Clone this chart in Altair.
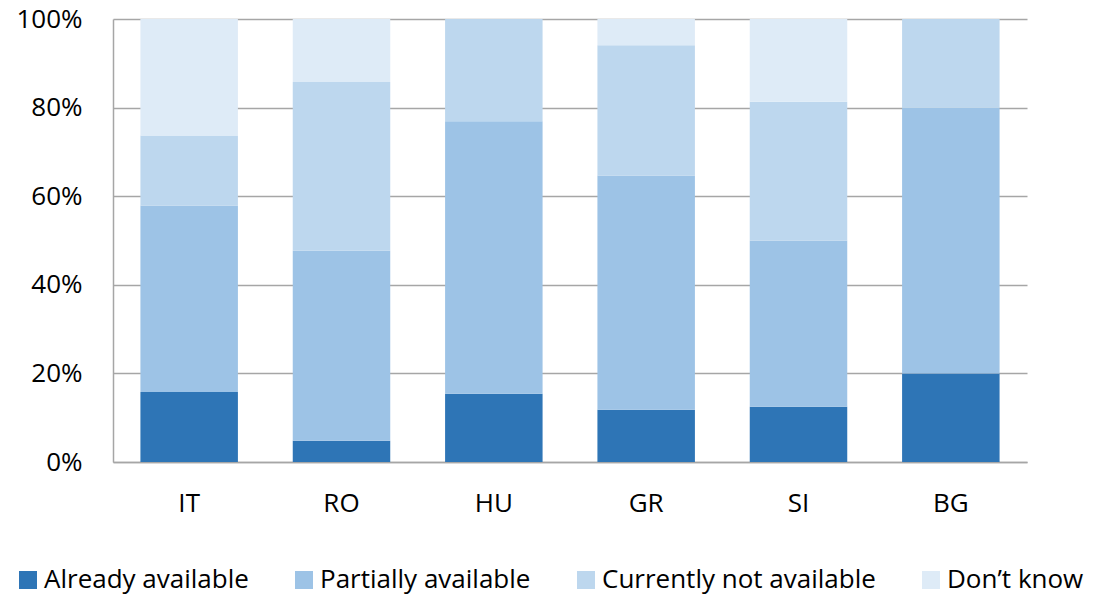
import altair as alt
import pandas as pd

countries = ["IT", "RO", "HU", "GR", "SI", "BG"]
categories = ["Already available", "Partially available", "Currently not available", "Don\u2019t know"]
already = [15.8, 4.8, 15.4, 11.8, 12.5, 20.0]
partially = [42.1, 42.9, 61.5, 52.9, 37.5, 60.0]
not_avail = [15.8, 38.1, 23.1, 29.4, 31.3, 20.0]
dont_know = [26.3, 14.2, 0.0, 5.9, 18.7, 0.0]
colors = ["#2E75B6", "#9DC3E6", "#BDD7EE", "#DEEBF7"]

rows = []
for series, vals in zip(categories, [already, partially, not_avail, dont_know]):
    for c, v in zip(countries, vals):
        rows.append({"country": c, "category": series, "value": v,
                     "order": categories.index(series)})
df = pd.DataFrame(rows)

FONT = "Open Sans"

chart = alt.Chart(df).mark_bar().encode(
    x=alt.X("country:N", sort=countries,
            scale=alt.Scale(paddingInner=0.36, paddingOuter=0.18),
            axis=alt.Axis(title=None, labelAngle=0, ticks=False, labelPadding=28,
                          labelFontSize=26, labelFont=FONT, labelColor="#000000",
                          domainColor="#A6A6A6", domainWidth=1.5, grid=False)),
    y=alt.Y("value:Q", stack="normalize",
            scale=alt.Scale(domain=[0, 1]),
            axis=alt.Axis(title=None, format=".0%", values=[0, 0.2, 0.4, 0.6, 0.8, 1.0],
                          ticks=False, labelPadding=31, labelFontSize=26, labelFont=FONT,
                          labelColor="#000000", domainColor="#A6A6A6", domainWidth=1.5,
                          gridColor="#A6A6A6", gridWidth=1.5)),
    color=alt.Color("category:N", sort=categories,
                    scale=alt.Scale(domain=categories, range=colors),
                    legend=alt.Legend(title=None, orient="none", direction="horizontal",
                                      legendX=-98, legendY=548, symbolType="square",
                                      symbolSize=324, symbolStrokeWidth=0,
                                      labelFontSize=26, labelFont=FONT, labelColor="#000000",
                                      labelOffset=3, columnPadding=42, labelLimit=400)),
    order=alt.Order("order:Q", sort="ascending"),
).properties(
    width=914, height=443,
    autosize=alt.AutoSizeParams(type="none"),
    padding={"left": 105, "top": 11, "right": 62, "bottom": 135},
).configure_view(stroke=None)

chart.save("out.html", embed_options={"renderer": "svg", "actions": False})
